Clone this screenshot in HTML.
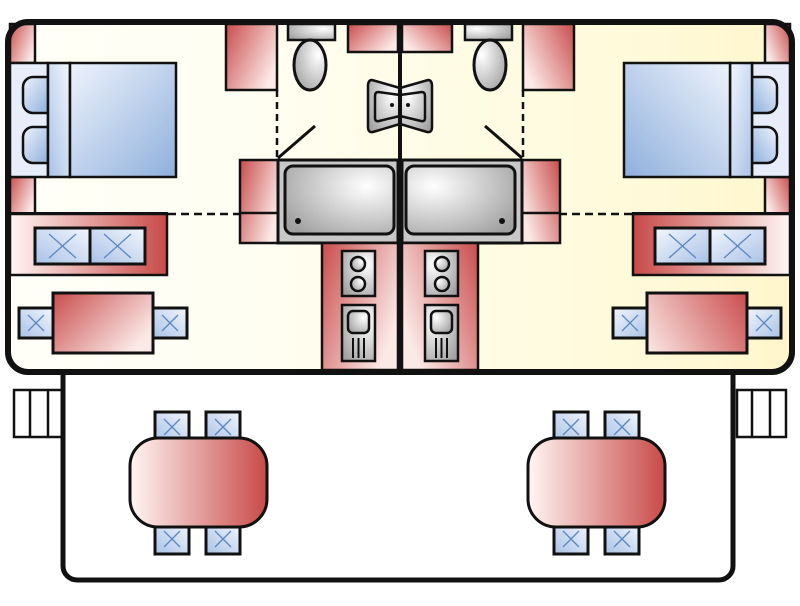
<!DOCTYPE html>
<html><head><meta charset="utf-8"><style>html,body{margin:0;padding:0;background:#fff}svg{display:block}</style></head>
<body>
<svg width="800" height="606" viewBox="0 0 800 606" xmlns="http://www.w3.org/2000/svg">
<defs>
<linearGradient id="bg" x1="0" x2="1" y1="0" y2="0">
<stop offset="0" stop-color="#fffff8"/><stop offset="0.3" stop-color="#fffef2"/><stop offset="0.5" stop-color="#fffce8"/><stop offset="0.7" stop-color="#fffbe0"/><stop offset="1" stop-color="#fff6cc"/></linearGradient>
<linearGradient id="red" x1="0" y1="0" x2="1" y2="0.6"><stop offset="0" stop-color="#c94d4d"/><stop offset="1" stop-color="#fbe9e6"/></linearGradient>
<linearGradient id="redm" gradientUnits="userSpaceOnUse" x1="747" y1="293" x2="647" y2="353"><stop offset="0" stop-color="#c94d4d"/><stop offset="1" stop-color="#fbe9e6"/></linearGradient>
<linearGradient id="redh" x1="0" y1="0" x2="1" y2="0"><stop offset="0" stop-color="#fff6f3"/><stop offset="1" stop-color="#c84a48"/></linearGradient>
<linearGradient id="blue" x1="0" y1="0" x2="1" y2="1"><stop offset="0" stop-color="#eef3fc"/><stop offset="1" stop-color="#8fb0dc"/></linearGradient>
<linearGradient id="blue2" x1="1" y1="0" x2="0" y2="1"><stop offset="0" stop-color="#f2f6fd"/><stop offset="1" stop-color="#a9c2e6"/></linearGradient>
<radialGradient id="grey" cx="0.75" cy="0.3" r="0.9"><stop offset="0" stop-color="#ffffff"/><stop offset="1" stop-color="#a0a0a0"/></radialGradient>
<g id="chair"><rect width="34" height="30" fill="url(#blue2)" stroke="#111" stroke-width="3"/><path d="M9 7 L25 23 M25 7 L9 23" stroke="#5a86c0" stroke-width="1.3"/></g>
<g id="half">
<rect x="10" y="24" width="25" height="39" fill="url(#red)" stroke="#111" stroke-width="2.5"/>
<rect x="10" y="177" width="25" height="37" fill="url(#red)" stroke="#111" stroke-width="2.5"/>
<rect x="10" y="63" width="38" height="114" fill="#e7eefa" stroke="#111" stroke-width="2.5"/>
<path d="M48 77 H33 a10 10 0 0 0 -10 10 V103 a10 10 0 0 0 10 10 H48 Z" fill="url(#blue)" stroke="#111" stroke-width="2.5"/>
<path d="M48 127 H33 a10 10 0 0 0 -10 10 V153 a10 10 0 0 0 10 10 H48 Z" fill="url(#blue)" stroke="#111" stroke-width="2.5"/>
<rect x="48" y="63" width="22" height="114" fill="url(#blue2)" stroke="#111" stroke-width="2.5"/>
<rect x="70" y="63" width="106" height="114" fill="url(#blue)" stroke="#111" stroke-width="2.5"/>
<line x1="8" y1="214" x2="168" y2="214" stroke="#111" stroke-width="4"/>
<rect x="10" y="214" width="157" height="61" fill="url(#redh)" stroke="#111" stroke-width="2.5"/>
<rect x="35" y="228" width="55" height="36" fill="url(#blue2)" stroke="#111" stroke-width="3"/>
<rect x="90" y="228" width="55" height="36" fill="url(#blue2)" stroke="#111" stroke-width="3"/>
<path d="M49 234 L76 258 M76 234 L49 258 M104 234 L131 258 M131 234 L104 258" stroke="#5a86c0" stroke-width="1.3"/>
<line x1="168" y1="214" x2="240" y2="214" stroke="#111" stroke-width="2.5" stroke-dasharray="8 5"/>
<use href="#chair" x="19" y="308"/><use href="#chair" x="153" y="308"/>
<rect x="226" y="24" width="51" height="66" fill="url(#red)" stroke="#111" stroke-width="2.5"/>
<line x1="277" y1="90" x2="277" y2="160" stroke="#111" stroke-width="2.5" stroke-dasharray="7 5"/>
<line x1="278" y1="158" x2="315" y2="126" stroke="#111" stroke-width="3"/>
<rect x="288" y="24" width="47" height="16" fill="url(#grey)" stroke="#111" stroke-width="2.5"/>
<ellipse cx="310" cy="65" rx="16" ry="25" fill="url(#grey)" stroke="#111" stroke-width="3"/>
<rect x="348" y="24" width="50" height="28" fill="url(#red)" stroke="#111" stroke-width="2.5"/>
<path d="M372 80 Q368 80 368 86 V127 Q368 133 373 132 L400 124 V88 Z" fill="url(#grey)" stroke="#111" stroke-width="2.5"/>
<path d="M378 92 Q375 92 375 96 V118 Q375 122 379 121 L400 116 V95 Z" fill="none" stroke="#111" stroke-width="2.5"/>
<circle cx="392" cy="105" r="2" fill="#111"/>
<rect x="240" y="160" width="38" height="83" fill="url(#red)" stroke="#111" stroke-width="2.5"/>
<line x1="240" y1="213" x2="278" y2="213" stroke="#111" stroke-width="2.5"/>
<rect x="278" y="160" width="120" height="83" fill="#c8c8c8" stroke="#111" stroke-width="3"/>
<rect x="285" y="166" width="109" height="68" rx="8" fill="url(#grey)" stroke="#111" stroke-width="3"/>
<circle cx="298" cy="221" r="3" fill="#111"/>
<rect x="322" y="243" width="76" height="127" fill="url(#red)" stroke="#111" stroke-width="2.5"/>
<rect x="342" y="251" width="33" height="45" fill="url(#grey)" stroke="#111" stroke-width="2.5"/>
<circle cx="358" cy="264" r="7" fill="url(#grey)" stroke="#111" stroke-width="2.5"/>
<circle cx="358" cy="284" r="7" fill="url(#grey)" stroke="#111" stroke-width="2.5"/>
<rect x="342" y="305" width="33" height="56" fill="url(#grey)" stroke="#111" stroke-width="2.5"/>
<rect x="348" y="311" width="21" height="22" rx="5" fill="url(#grey)" stroke="#111" stroke-width="2.5"/>
<path d="M353 338 V358 M358.5 338 V358 M364 338 V358" stroke="#111" stroke-width="2"/>
<rect x="14" y="390" width="49" height="47" fill="#fff" stroke="#111" stroke-width="2.5"/>
<path d="M30 390 V437 M48 390 V437" stroke="#111" stroke-width="2.5"/>
</g>
</defs>
<path d="M28 22 H772 a20 20 0 0 1 20 20 V352 a20 20 0 0 1 -20 20 H28 a20 20 0 0 1 -20 -20 V42 a20 20 0 0 1 20 -20 Z" fill="url(#bg)"/>
<use href="#half"/>
<use href="#half" transform="translate(800,0) scale(-1,1)"/>
<rect x="53" y="293" width="100" height="60" fill="url(#red)" stroke="#111" stroke-width="3"/>
<rect x="647" y="293" width="100" height="60" fill="url(#redm)" stroke="#111" stroke-width="3"/>
<use href="#chair" x="155" y="412"/><use href="#chair" x="206" y="412"/>
<use href="#chair" x="155" y="524"/><use href="#chair" x="206" y="524"/>
<use href="#chair" x="554" y="412"/><use href="#chair" x="605" y="412"/>
<use href="#chair" x="554" y="524"/><use href="#chair" x="605" y="524"/>
<rect x="130" y="438" width="137" height="89" rx="28" fill="url(#redh)" stroke="#111" stroke-width="3"/>
<rect x="528" y="438" width="137" height="89" rx="28" fill="url(#redh)" stroke="#111" stroke-width="3"/>
<line x1="400" y1="22" x2="400" y2="372" stroke="#111" stroke-width="4"/>
<path d="M28 22 H772 a20 20 0 0 1 20 20 V352 a20 20 0 0 1 -20 20 H28 a20 20 0 0 1 -20 -20 V42 a20 20 0 0 1 20 -20 Z" fill="none" stroke="#111" stroke-width="6"/>
<path d="M63 374 V566 a14 14 0 0 0 14 14 H719 a14 14 0 0 0 14 -14 V374" fill="none" stroke="#111" stroke-width="5"/>
</svg>
</body></html>
